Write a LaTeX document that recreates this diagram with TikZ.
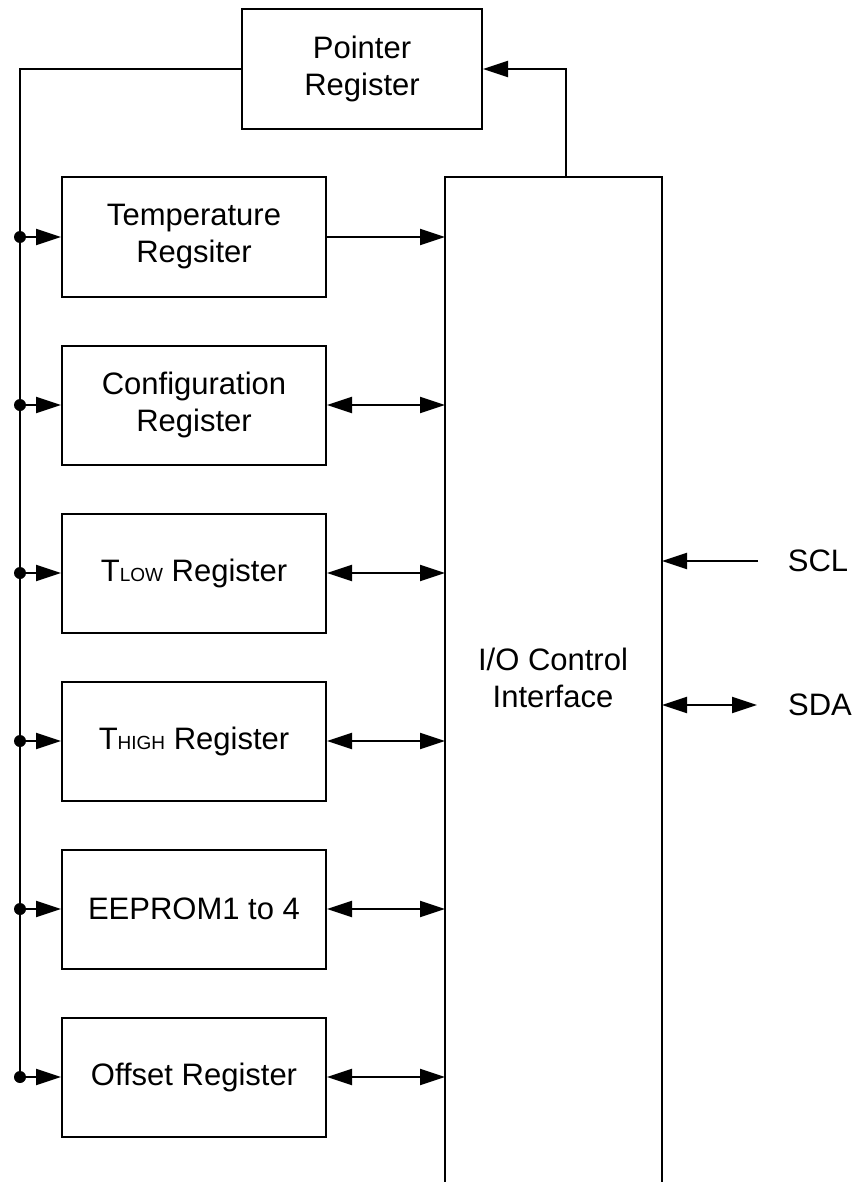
\documentclass[tikz,border=0pt]{standalone}
\usepackage{fontspec}
\setmainfont{Liberation Sans}
\usetikzlibrary{arrows.meta}
\newcommand{\lowcaps}[1]{{\fontsize{9.5pt}{10pt}\selectfont #1}}

\begin{document}
\begin{tikzpicture}[x=0.5pt,y=-0.5pt,line width=1pt,
    regbox/.style={draw,minimum width=132pt,minimum height=59.5pt,align=center,inner sep=0pt,
        font=\fontsize{15.5pt}{18.5pt}\selectfont},
    label/.style={font=\fontsize{15.5pt}{18.5pt}\selectfont,align=center,inner sep=0pt},
    tip/.style={-{Triangle[length=12.5pt,width=8pt]}},
    dtip/.style={{Triangle[length=12.5pt,width=8pt]}-{Triangle[length=12.5pt,width=8pt]}}]
\useasboundingbox (0,0) rectangle (856,1182);

% Pointer Register
\node[regbox,minimum width=120pt,minimum height=60pt] (ptr) at (362,69) {Pointer\\Register};

% I/O Control Interface (unten offen)
\node[minimum width=107.5pt,minimum height=502pt,inner sep=0pt] (io) at (553.5,680) {};
\draw (io.south west) -- (io.north west) -- (io.north east) -- (io.south east);
\node[label] (iotext) at (553,678) {I/O Control\\Interface};

% Register (links)
\foreach \name/\y/\text in {
    temp/237/{Temperature\\Regsiter},
    conf/405/{Configuration\\Register},
    tlow/573/{T\lowcaps{LOW} Register},
    thigh/741/{T\lowcaps{HIGH} Register},
    eeprom/909/{EEPROM1 to 4},
    offset/1077/{Offset Register}} {
    \node[regbox] (\name) at (194,\y) {\text};
    \coordinate (\name-bus) at (20,\y);
    \fill (\name-bus) circle (3pt);
    \draw[tip] (\name-bus) -- (\name.west);
}

% Bus vom Pointer Register
\draw (ptr.west) -| (offset-bus);

% Pfeile zum I/O
\draw[tip] (temp.east) -- (temp.east -| io.west);
\foreach \name in {conf,tlow,thigh,eeprom,offset} {
    \draw[dtip] (\name.east) -- (\name.east -| io.west);
}

% I/O -> Pointer Register
\coordinate (iotap) at (566,178);
\draw[tip] (iotap) |- (ptr.east);

% SCL, SDA
\node[label] (scl) at (818,561) {SCL};
\node[label] (sda) at (820,705) {SDA};
\coordinate (sclend) at (758,561);
\coordinate (sdaend) at (757,705);
\draw[tip] (sclend) -- (sclend -| io.east);
\draw[dtip] (sdaend -| io.east) -- (sdaend);
\end{tikzpicture}
\end{document}
